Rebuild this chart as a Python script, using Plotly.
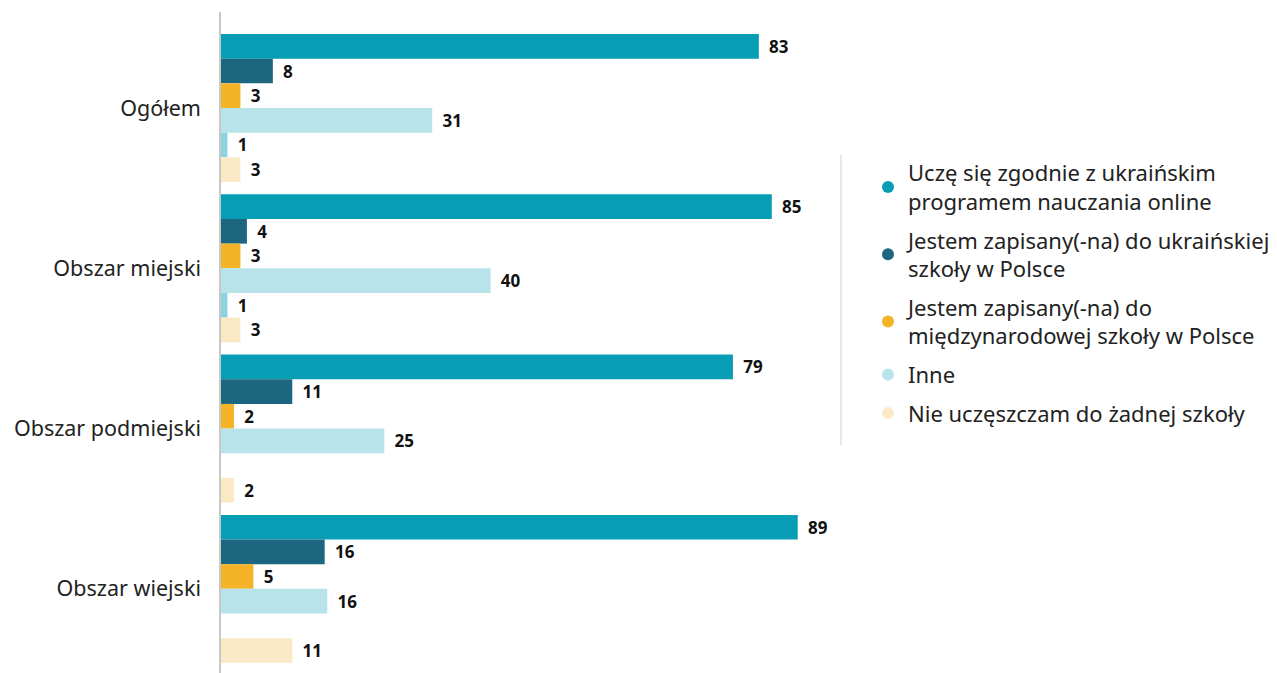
import plotly.graph_objects as go

categories = ["Ogółem", "Obszar miejski", "Obszar podmiejski", "Obszar wiejski"]

series_names = [
    "Uczę się zgodnie z ukraińskim<br>programem nauczania online",
    "Jestem zapisany(-na) do ukraińskiej<br>szkoły w Polsce",
    "Jestem zapisany(-na) do<br>międzynarodowej szkoły w Polsce",
    "Inne",
    "",
    "Nie uczęszczam do żadnej szkoły",
]
online = [83, 85, 79, 89]
ukr_school = [8, 4, 11, 16]
intl_school = [3, 3, 2, 5]
# bar lengths as drawn in the picture; printed labels below
inne = [32.6, 41.6, 25.2, 16.4]
inne_labels = [31, 40, 25, 16]
other_small = [1, 1, None, None]
none_school = [3, 3, 2, 11]

values = [online, ukr_school, intl_school, inne, other_small, none_school]
labels = [online, ukr_school, intl_school, inne_labels, other_small, none_school]
colors = ["#069db5", "#1d6680", "#f5b327", "#b8e3ea", "#8dd3df", "#fbe9c6"]
show_legend = [True, True, True, True, False, True]

FONT = "Noto Sans"

fig = go.Figure()
for name, vals, labs, col in zip(series_names, values, labels, colors):
    fig.add_trace(go.Bar(
        y=categories, x=vals, orientation="h", name=name,
        marker=dict(color=col, line=dict(width=0)),
        text=[("\u00a0\u2009" + str(v)) if v is not None else "" for v in labs],
        texttemplate="%{text}", textposition="outside",
        textfont=dict(family=FONT, size=17, color="#111111", weight="bold"),
        cliponaxis=False, showlegend=False,
    ))

for i, (name, col, sl) in enumerate(zip(series_names, colors, show_legend)):
    if sl:
        fig.add_trace(go.Scatter(
            x=[None], y=[None], mode="markers", name=name,
            legendgroup=f"g{i}",
            marker=dict(color=col, size=14, symbol="circle"),
            showlegend=True,
        ))

# page offset (browser body margin)
OFF = 8
W, H = 1277 - OFF, 673 - OFF
L, T, B = 221 - OFF, 12 - OFF, 0
PR = 830 - OFF  # plot right edge in figure px
R = W - PR
pw = W - L - R
ph = H - T - B

fig.update_layout(
    width=W, height=H,
    margin=dict(l=L, r=R, t=T, b=B, autoexpand=False),
    barmode="group", bargap=0.077, bargroupgap=0,
    plot_bgcolor="white", paper_bgcolor="white",
    font=dict(family=FONT, size=21, color="#222222"),
    xaxis=dict(range=[0, pw / 6.48], visible=False, showgrid=False, zeroline=False),
    yaxis=dict(
        range=[3.525, -0.599], showgrid=False, zeroline=False,
        showline=True, linecolor="#c8c8c8", linewidth=1.5,
        ticks="", ticklabelstandoff=14,
        tickfont=dict(family=FONT, size=21.5, color="#222222"),
    ),
    legend=dict(
        xref="container", yref="container",
        x=(868 - OFF) / W, y=1 - (152 - OFF) / H, xanchor="left", yanchor="top",
        font=dict(family=FONT, size=22, color="#222222"),
        traceorder="grouped", tracegroupgap=7, itemsizing="constant",
        bgcolor="rgba(0,0,0,0)",
    ),
    showlegend=True,
)

fig.add_shape(
    type="line", xref="paper", yref="paper",
    x0=(841 - OFF - L) / pw, x1=(841 - OFF - L) / pw,
    y0=1 - (155 - OFF - T) / ph, y1=1 - (445 - OFF - T) / ph,
    line=dict(color="#d0d0d0", width=1),
)

fig.write_html("out.html")
